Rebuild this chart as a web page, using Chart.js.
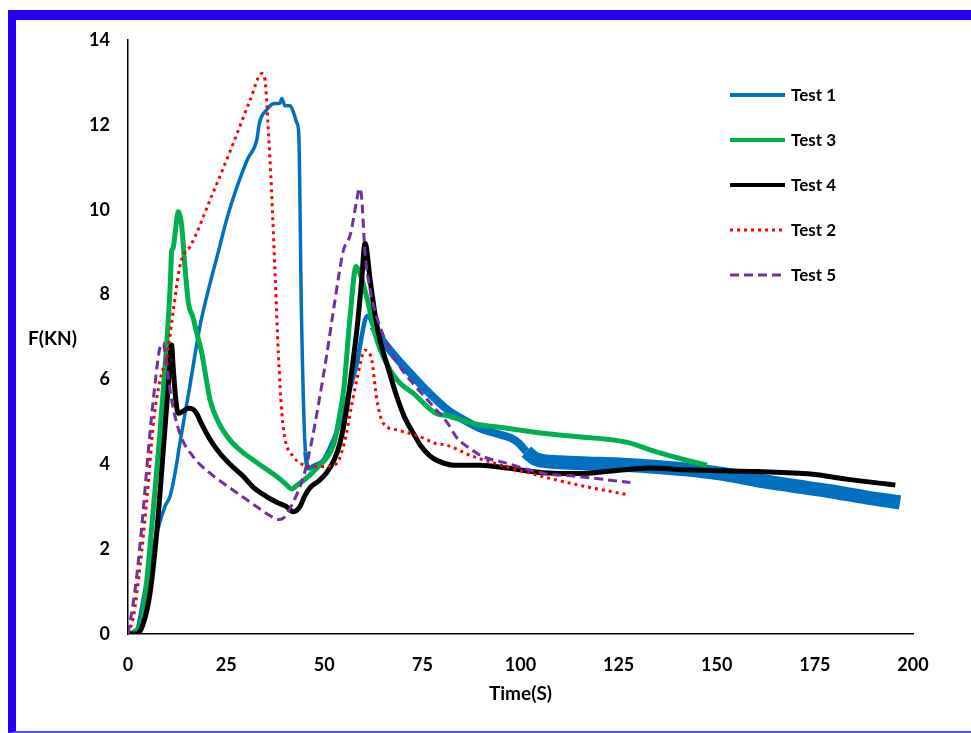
<!DOCTYPE html>
<html><head><meta charset="utf-8">
<script src="https://cdn.jsdelivr.net/npm/chart.js@4.4.0/dist/chart.umd.min.js"></script>
<style>
html,body{margin:0;padding:0;background:#fff;}
#wrap{position:relative;width:971px;height:733px;overflow:hidden;background:#fff;}
#frame{position:absolute;left:8px;top:10px;width:990px;height:723px;box-sizing:border-box;border-top:10px solid #2400EE;border-left:8px solid #2400EE;border-bottom:2px solid #5a4cf2;}
#c{position:absolute;left:0;top:0;}
</style></head>
<body>
<div id="wrap"><div id="frame"></div><canvas id="c" width="971" height="733"></canvas></div>
<script>
// Tick labels
const xTicks = [0, 25, 50, 75, 100, 125, 150, 175, 200];
const yTicks = [0, 2, 4, 6, 8, 10, 12, 14];

// Test 1 (blue)
const test1Time  = [0, 2, 4, 6.5, 9.4, 10.7, 12, 13.2, 15.5, 18.3, 21, 23, 25.1, 28, 30.5, 32.8, 33.5, 35.3, 37, 38.7, 39.2, 40, 41.3, 42.5, 43.0, 43.5, 44.2, 45.2, 46.2, 47, 49.8, 52, 54, 56, 58.3, 60.4, 61.2, 62.5, 64.2, 68, 72.7, 76.5, 81.2, 85.5, 89.7, 94, 97.5, 99.5, 101.5, 104, 110, 117, 124, 133, 142, 151, 160, 169, 178.5, 188, 196.7];
const test1Force = [0, 0.05, 0.9, 2.06, 3.0, 3.24, 3.8, 4.49, 5.7, 7.24, 8.3, 9.0, 9.76, 10.6, 11.2, 11.64, 12.05, 12.35, 12.5, 12.51, 12.62, 12.45, 12.45, 12.2, 12.05, 11.8, 7.5, 4.3, 3.9, 3.95, 4.1, 4.5, 4.97, 5.6, 6.38, 7.4, 7.5, 7.25, 7.0, 6.55, 6.07, 5.7, 5.3, 5.05, 4.85, 4.72, 4.62, 4.5, 4.3, 4.12, 4.05, 4.02, 4.0, 3.95, 3.88, 3.78, 3.63, 3.5, 3.37, 3.22, 3.1];

// Test 3 (green)
const test3Time  = [0, 2, 3.5, 4.8, 6.5, 8.2, 9.6, 10.8, 11.1, 11.5, 12.2, 12.8, 13.7, 14.5, 15.4, 16.6, 17.5, 18.8, 20.9, 23, 26, 29, 31.9, 35, 37.9, 40, 41.7, 43, 46.4, 48.5, 50.6, 52.5, 54, 55, 56.6, 58.1, 59.1, 60.8, 63.4, 66.8, 69.3, 72.7, 78.4, 81.2, 87.5, 96.6, 105.7, 114.8, 123.9, 128, 133, 142.1, 147.5];
const test3Force = [0, 0.08, 0.3, 1.27, 3.0, 4.8, 6.5, 8.3, 9.0, 9.1, 9.6, 9.95, 9.6, 8.66, 7.8, 7.45, 7.1, 6.62, 5.52, 5.0, 4.57, 4.3, 4.1, 3.9, 3.71, 3.55, 3.42, 3.5, 3.75, 3.95, 4.15, 4.5, 5.2, 5.8, 7.5, 8.66, 8.5, 7.95, 6.93, 6.22, 5.91, 5.67, 5.2, 5.15, 4.97, 4.85, 4.73, 4.65, 4.57, 4.5, 4.34, 4.1, 3.98];

// Test 4 (black)
const test4Time  = [0, 2.2, 3.9, 5.6, 7.3, 9, 10.3, 11.1, 11.5, 12.2, 12.8, 14, 15.4, 16.5, 17.5, 18.5, 20, 21.5, 23.4, 26, 29.4, 32, 35.3, 38, 40.4, 42.1, 43.8, 45, 46.4, 48.5, 50.6, 52.5, 54, 55.7, 57, 58.3, 59.5, 60.4, 61.7, 63, 64.2, 66.5, 68.5, 70.5, 72.7, 74.5, 76.9, 79, 82.9, 89.7, 96.6, 105.7, 114.8, 123.9, 133, 142.1, 160.3, 174, 183, 195.5];
const test4Force = [0, 0, 0.25, 0.96, 2.37, 4.34, 5.91, 6.81, 6.3, 5.5, 5.2, 5.25, 5.32, 5.3, 5.2, 5.0, 4.73, 4.5, 4.26, 4.0, 3.71, 3.45, 3.24, 3.1, 3.0, 2.88, 3.0, 3.25, 3.45, 3.6, 3.8, 4.1, 4.5, 5.3, 6.2, 7.16, 8.3, 9.21, 8.34, 7.5, 6.93, 6.2, 5.59, 5.1, 4.73, 4.45, 4.2, 4.08, 3.98, 3.98, 3.91, 3.8, 3.78, 3.85, 3.91, 3.87, 3.83, 3.77, 3.65, 3.51];

// Test 2 (red, dotted)
const test2Time  = [0, 1.4, 3.06, 4.8, 6.5, 8.2, 10, 11.5, 13.2, 14.5, 15.8, 20.9, 26.8, 31.1, 34.1, 34.9, 35.7, 36.6, 37.5, 38.3, 39.2, 40, 42.1, 44, 46.4, 50, 53.2, 54.5, 55.7, 57, 58.3, 60.4, 61.2, 62.1, 63.4, 65, 68.5, 74.4, 78.4, 81.2, 87.5, 96.6, 105.7, 114.8, 127.5];
const test2Force = [0, 0.41, 1.59, 3.16, 5.0, 6.0, 6.6, 7.6, 8.66, 9.0, 9.13, 10.23, 11.56, 12.58, 13.21, 13.06, 11.96, 10.39, 8.42, 6.62, 5.2, 4.6, 4.18, 4.02, 3.94, 3.95, 4.02, 4.3, 4.75, 5.4, 5.99, 6.69, 6.65, 6.46, 5.52, 4.97, 4.81, 4.65, 4.49, 4.45, 4.2, 3.94, 3.71, 3.51, 3.28];

// Test 5 (purple, dashed)
const test5Time  = [0, 1.8, 3.5, 5.2, 6.9, 8.2, 9, 9.9, 11.1, 13.2, 16.6, 20.9, 26.8, 32.8, 36, 38.5, 39.8, 41.5, 44.7, 46.5, 48.5, 50.5, 52.3, 53.8, 54.9, 56.6, 58.3, 58.9, 59.5, 60.4, 61.7, 64.2, 69.3, 72.7, 78.4, 81.2, 84, 87.5, 90, 96.6, 105.7, 114.8, 128];
const test5Force = [0, 1.04, 2.53, 4.34, 5.91, 6.77, 6.85, 6.3, 5.52, 4.73, 4.18, 3.79, 3.39, 3.0, 2.8, 2.7, 2.75, 3.0, 3.71, 4.4, 5.4, 6.5, 7.6, 8.5, 9.05, 9.4, 10.23, 10.5, 10.31, 8.97, 8.11, 7.24, 6.3, 5.9, 5.3, 5.0, 4.6, 4.35, 4.2, 4.02, 3.79, 3.71, 3.57];

const pts = (t, f) => t.map((x, i) => ({x: x, y: f[i]}));
const FONT = "Lato, 'Liberation Sans', sans-serif";

const blueWidth = ctx => {
  const x = ctx.p0.parsed.x;
  if (x >= 101) return 14;
  if (x >= 62) return 8;
  if (x >= 45) return 4.5;
  return 3.5;
};

const datasets = [
  {label: 'Test 1', data: pts(test1Time, test1Force), borderColor: '#0070C0', borderWidth: 3.5, order: 5,
   segment: {borderWidth: blueWidth}},
  {label: 'Test 3', data: pts(test3Time, test3Force), borderColor: '#00B050', borderWidth: 5, order: 4},
  {label: 'Test 4', data: pts(test4Time, test4Force), borderColor: '#000000', borderWidth: 5, order: 3},
  {label: 'Test 2', data: pts(test2Time, test2Force), borderColor: '#FF0000', borderWidth: 3, borderDash: [3, 4], borderCapStyle: 'butt', order: 2},
  {label: 'Test 5', data: pts(test5Time, test5Force), borderColor: '#7030A0', borderWidth: 3, borderDash: [9, 5], order: 1}
];

const legendPlugin = {
  id: 'customLegend',
  afterDraw(chart) {
    const ctx = chart.ctx;
    const ys = [95, 140, 185, 230, 275];
    ctx.save();
    chart.data.datasets.forEach((ds, i) => {
      const y = ys[i];
      ctx.beginPath();
      ctx.strokeStyle = ds.borderColor;
      ctx.lineWidth = i === 3 ? 3 : (i === 4 ? 3 : 4);
      ctx.setLineDash(ds.borderDash || []);
      ctx.lineCap = 'butt';
      ctx.moveTo(730, y);
      ctx.lineTo(785, y);
      ctx.stroke();
      ctx.setLineDash([]);
      ctx.fillStyle = '#000';
      ctx.font = "bold 17px " + FONT;
      ctx.textAlign = 'left';
      ctx.textBaseline = 'middle';
      ctx.fillText(ds.label, 791, y + 1);
    });
    ctx.font = "bold 19px " + FONT;
    ctx.textAlign = 'left';
    ctx.textBaseline = 'middle';
    ctx.fillStyle = '#000';
    ctx.fillText('F(KN)', 28, 339);
    ctx.restore();
  }
};

new Chart(document.getElementById('c'), {
  type: 'line',
  data: {datasets: datasets},
  options: {
    responsive: false,
    animation: false,
    devicePixelRatio: 1,
    layout: {padding: {left: 0, top: 40, right: 58, bottom: 0}},
    elements: {point: {radius: 0}, line: {cubicInterpolationMode: 'monotone', borderJoinStyle: 'round'}},
    plugins: {legend: {display: false}, tooltip: {enabled: false}},
    scales: {
      x: {
        type: 'linear', min: 0, max: 200,
        afterBuildTicks: s => { s.ticks = xTicks.map(v => ({value: v})); },
        afterFit: s => { s.height = 99; },
        grid: {display: false, drawTicks: false},
        border: {display: true, color: '#000', width: 1.5},
        ticks: {color: '#000', padding: 20, font: {family: FONT, size: 18, weight: 'bold'}, maxRotation: 0},
        title: {display: true, text: 'Time(S)', color: '#000', font: {family: FONT, size: 19, weight: 'bold'}, padding: {top: 0, bottom: 28}}
      },
      y: {
        type: 'linear', min: 0, max: 14,
        afterBuildTicks: s => { s.ticks = yTicks.map(v => ({value: v})); },
        afterFit: s => { s.width = 128; },
        grid: {display: false, drawTicks: false},
        border: {display: true, color: '#000', width: 1.5},
        ticks: {color: '#000', padding: 18, font: {family: FONT, size: 18, weight: 'bold'}}
      }
    }
  },
  plugins: [legendPlugin]
});
</script>
</body></html>
